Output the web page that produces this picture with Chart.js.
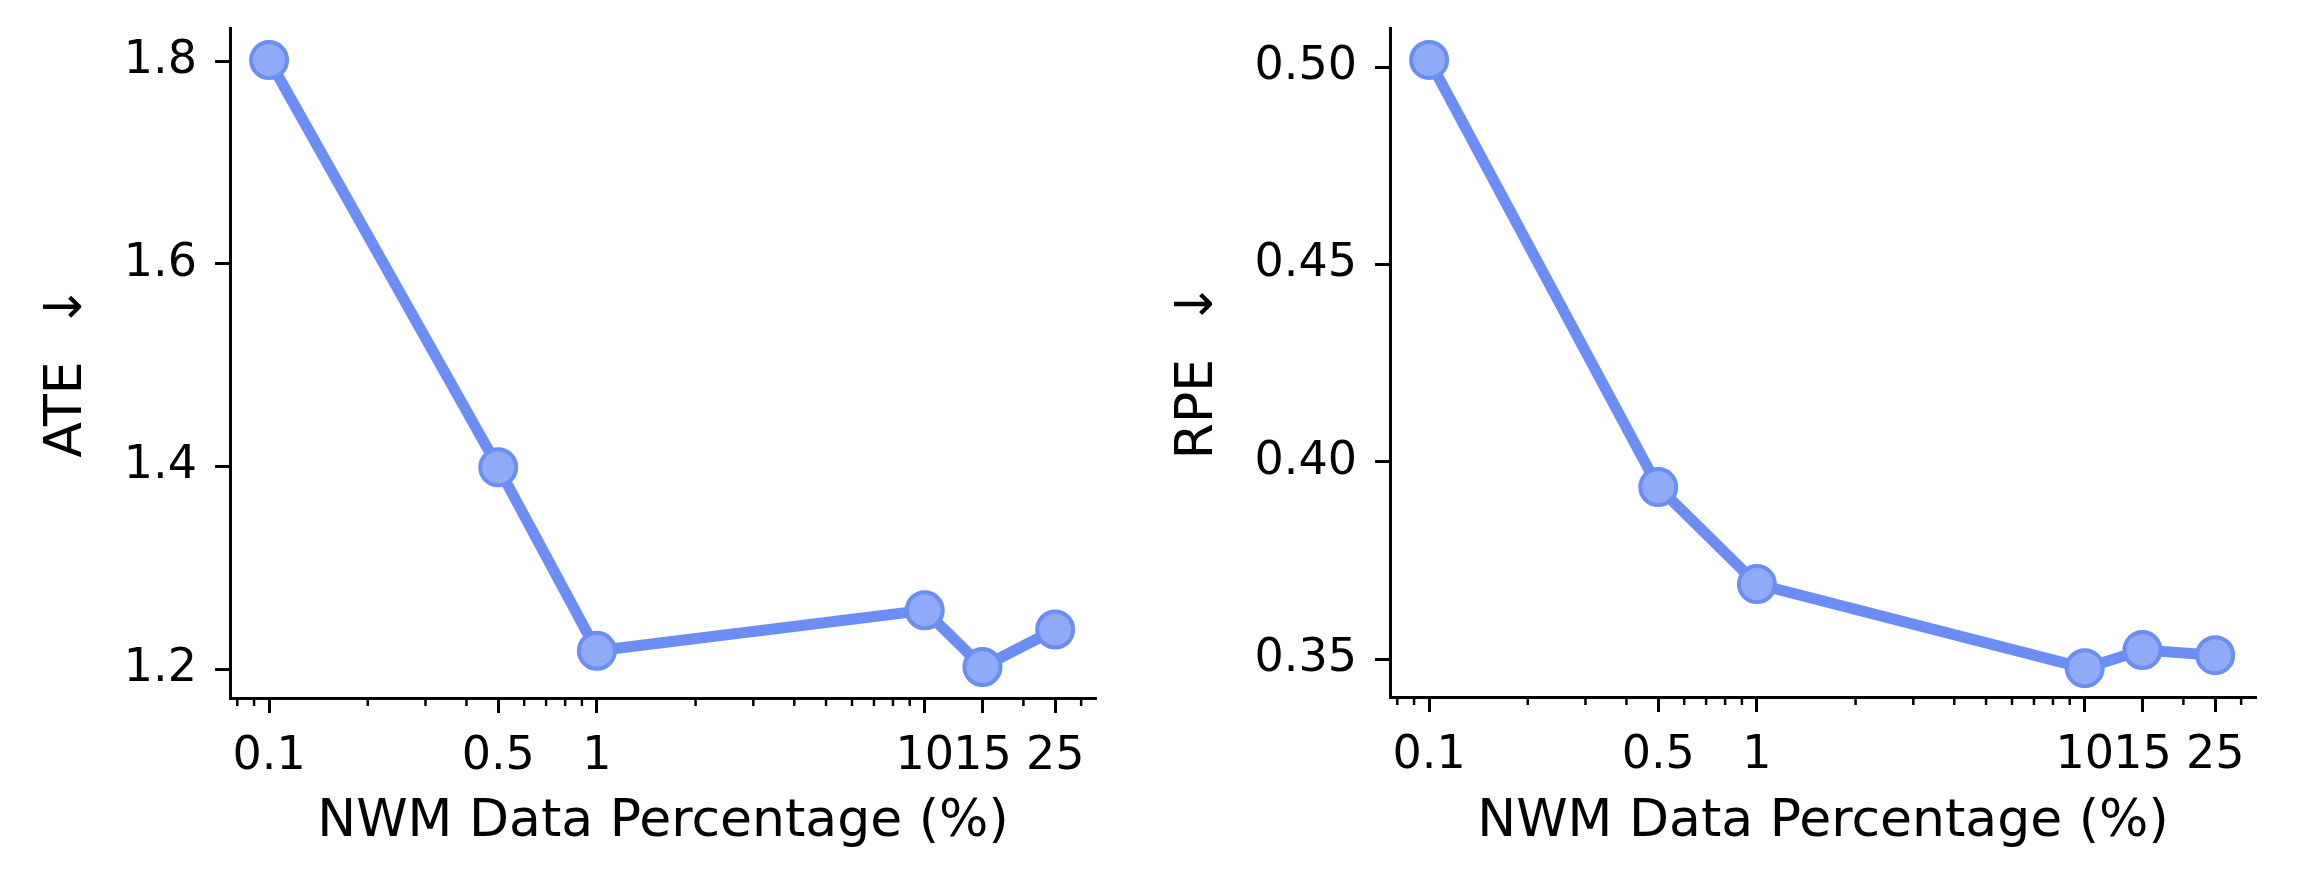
<!DOCTYPE html>
<html>
<head>
<meta charset="utf-8">
<script src="https://cdn.jsdelivr.net/npm/chart.js@4/dist/chart.umd.min.js"></script>
<style>
  html, body { margin: 0; padding: 0; background: #fff; }
  .panel { position: absolute; top: 0; width: 1149px; height: 884px; }
  #leftPanel { left: 0; }
  #rightPanel { left: 1149px; }
</style>
</head>
<body>
<div class="panel" id="leftPanel"><canvas id="ateChart" width="1149" height="884"></canvas></div>
<div class="panel" id="rightPanel"><canvas id="rpeChart" width="1149" height="884"></canvas></div>
<script>
// data
const percentages = [0.1, 0.5, 1, 10, 15, 25];
const ateValues = [1.801, 1.399, 1.218, 1.258, 1.202, 1.239];
const rpeValues = [0.5018, 0.3936, 0.369, 0.3477, 0.3523, 0.351];
const xTickValues = [0.1, 0.5, 1, 10, 15, 25];
const xMinorTicks = [0.08, 0.09, 0.2, 0.3, 0.4, 0.6, 0.7, 0.8, 0.9, 2, 3, 4, 5, 6, 7, 8, 9, 20, 30];
const ateTicks = [1.2, 1.4, 1.6, 1.8];
const rpeTicks = [0.35, 0.40, 0.45, 0.50];

const FONT = "'DejaVu Sans', sans-serif";
const lineColor = "#6A8EF4";
const pointFill = "#8FAAF6";

// minor ticks on the log axis, drawn through the scale
const minorTickPlugin = {
    id: "minorTicks",
    afterDraw(chart) {
        const xs = chart.scales.x;
        const ctx = chart.ctx;
        ctx.save();
        ctx.strokeStyle = "#000";
        ctx.lineWidth = 2.5;
        xMinorTicks.forEach(v => {
            if (v < xs.min || v > xs.max) return;
            const px = xs.getPixelForValue(v);
            ctx.beginPath();
            ctx.moveTo(px, xs.top);
            ctx.lineTo(px, xs.top + 8);
            ctx.stroke();
        });
        ctx.restore();
    }
};

function makeChart(canvasId, values, yTicks, yMin, yMax, yLabel, opts) {
    const ctx = document.getElementById(canvasId).getContext("2d");
    return new Chart(ctx, {
        type: "line",
        data: {
            datasets: [{
                data: percentages.map((p, i) => ({ x: p, y: values[i] })),
                borderColor: lineColor,
                borderWidth: 11,
                backgroundColor: pointFill,
                pointBackgroundColor: pointFill,
                pointBorderColor: lineColor,
                pointBorderWidth: 4,
                pointRadius: 18,
                pointHoverRadius: 18,
                tension: 0,
                clip: false
            }]
        },
        options: {
            responsive: false,
            animation: false,
            devicePixelRatio: 1,
            layout: { autoPadding: false, padding: { top: 28, right: opts.padRight, left: 0, bottom: 0 } },
            plugins: { legend: { display: false }, tooltip: { enabled: false } },
            scales: {
                x: {
                    type: "logarithmic",
                    min: 0.076,
                    max: 33.3,
                    afterBuildTicks: scale => { scale.ticks = xTickValues.map(v => ({ value: v })); },
                    afterFit: scale => {
                        scale.height = opts.xHeight;
                        scale.paddingLeft = 0;
                        scale.paddingRight = 0;
                    },
                    border: { display: true, color: "#000", width: 3 },
                    grid: { drawOnChartArea: false, drawTicks: true, tickLength: 15, tickWidth: 3, tickColor: "#000" },
                    ticks: {
                        autoSkip: false,
                        maxRotation: 0,
                        minRotation: 0,
                        padding: 16,
                        color: "#000",
                        font: { family: FONT, size: 46 },
                        callback: v => String(v)
                    },
                    title: {
                        display: true,
                        text: "NWM Data Percentage (%)",
                        color: "#000",
                        font: { family: FONT, size: 52 },
                        padding: { top: 0, bottom: 30 }
                    }
                },
                y: {
                    type: "linear",
                    min: yMin,
                    max: yMax,
                    afterBuildTicks: scale => { scale.ticks = yTicks.map(v => ({ value: v })); },
                    afterFit: scale => {
                        scale.width = opts.yWidth;
                        scale.paddingTop = 0;
                        scale.paddingBottom = 0;
                    },
                    border: { display: true, color: "#000", width: 3 },
                    grid: { drawOnChartArea: false, drawTicks: true, tickLength: 15, tickWidth: 3, tickColor: "#000" },
                    ticks: {
                        padding: 18,
                        color: "#000",
                        font: { family: FONT, size: 46 },
                        callback: v => v.toFixed(opts.decimals)
                    },
                    title: {
                        display: true,
                        text: yLabel,
                        color: "#000",
                        font: { family: FONT, size: 52 },
                        padding: { top: opts.titlePad, bottom: 0 }
                    }
                }
            }
        },
        plugins: [minorTickPlugin]
    });
}

makeChart("ateChart", ateValues, ateTicks, 1.1714, 1.8326, "ATE  \u2193 ",
    { padRight: 53, xHeight: 186, yWidth: 230, decimals: 1, titlePad: 36 });
makeChart("rpeChart", rpeValues, rpeTicks, 0.3404, 0.5099, "RPE  \u2193 ",
    { padRight: 42, xHeight: 187, yWidth: 241, decimals: 2, titlePad: 18 });
</script>
</body>
</html>
